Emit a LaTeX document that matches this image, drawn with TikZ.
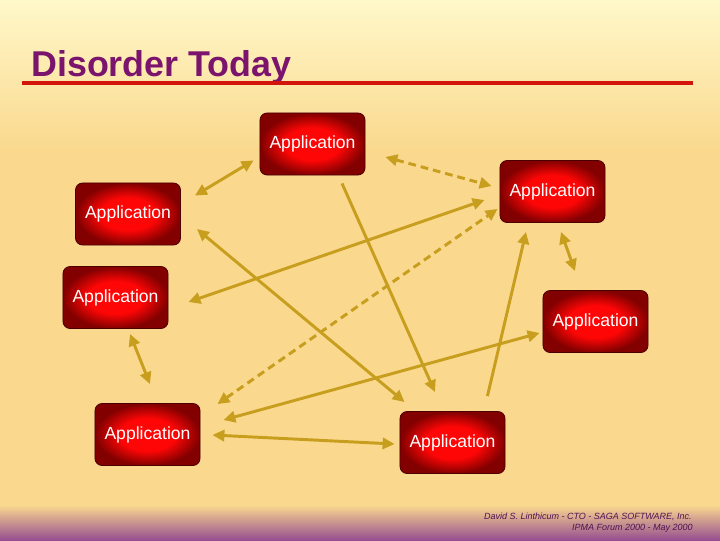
\documentclass[tikz,border=0pt]{standalone}
\usepackage{fontspec}
\setmainfont{Liberation Sans}
\usetikzlibrary{arrows.meta}

\definecolor{bgtop}{RGB}{255,248,202}
\definecolor{bgmid}{RGB}{250,217,142}
\definecolor{bgfoot}{RGB}{150,78,145}
\definecolor{titlecol}{RGB}{122,20,108}
\definecolor{rulecol}{RGB}{210,20,10}
\definecolor{linkcol}{RGB}{200,158,30}
\definecolor{appred}{RGB}{255,6,6}
\definecolor{appdark}{RGB}{130,0,0}
\definecolor{footcol}{RGB}{80,18,80}

\pgfdeclareradialshading{appglow}{\pgfpoint{0bp}{0bp}}{%
  color(0bp)=(appred); color(13bp)=(appred); color(25bp)=(appdark); color(50bp)=(appdark)}

\tikzset{
  app/.style={rectangle, rounded corners=0.18cm, draw=appdark!60!black,
    line width=0.6pt, shading=appglow,
    minimum width=2.625cm, minimum height=1.55cm, inner sep=0pt,
    text=white, font=\fontsize{12.5}{14}\selectfont},
  link/.style={draw=linkcol, line width=2.1pt},
  dlink/.style={link, dash pattern=on 5.5pt off 3.5pt},
  twoway/.style={{Triangle[length=8.5pt,width=8pt]}-{Triangle[length=8.5pt,width=8pt]}},
  oneway/.style={-{Triangle[length=8.5pt,width=8pt]}},
}

\begin{document}
\begin{tikzpicture}[x=0.025cm,y=-0.025cm]
% ===== background =====
\useasboundingbox (0,0) rectangle (720,540);
\shade[top color=bgtop, bottom color=bgmid] (0,0) rectangle (720,150);
\fill[bgmid] (0,149) rectangle (720,506);
\shade[top color=bgmid, bottom color=bgfoot] (0,505) rectangle (720,540);

% ===== title =====
\node[anchor=base west, inner sep=0pt, text=titlecol,
  font=\fontsize{25.5}{29}\selectfont\bfseries] (title) at (31,76) {Disorder Today};
\draw[rulecol, line width=2.2pt] (22,83) -- (693,83);

% ===== applications =====
\node[app] (appT)  at (312.5,144)   {Application};
\node[app] (appRT) at (552.5,191.5) {Application};
\node[app] (appLT) at (128,214)     {Application};
\node[app] (appLM) at (115.5,297.5) {Application};
\node[app] (appRM) at (595.5,321.5) {Application};
\node[app] (appLB) at (147.5,434.5) {Application};
\node[app] (appMB) at (452.5,442.5) {Application};

% ===== links =====
\draw[link,twoway] ([shift={(14,13)}]appLT.north east) -- ([shift={(-6,-15)}]appT.south west);
\draw[dlink,twoway] ([shift={(20,13)}]appT.east) -- ([shift={(-8,-5.5)}]appRT.west);
\draw[link,twoway] ([shift={(20,4.5)}]appLM.east) -- ([shift={(-15,8.5)}]appRT.west);
\draw[dlink,twoway] ([shift={(17,1)}]appLB.north east) -- ([shift={(-2,-14)}]appRT.south west);
\draw[link,oneway] ([shift={(29.5,8)}]appT.south) -- ([shift={(-17.5,-19)}]appMB.north);
\draw[link,twoway] ([shift={(16,15)}]appLT.east) -- ([shift={(5,-9)}]appMB.north west);
\draw[link,oneway] ([shift={(-18,-15)}]appMB.north east) -- ([shift={(-26.5,9)}]appRT.south);
\draw[link,twoway] ([shift={(8.5,9)}]appRT.south) -- ([shift={(-20.5,-19)}]appRM.north);
\draw[link,twoway] ([shift={(23,-14.5)}]appLB.east) -- ([shift={(-3,11.5)}]appRM.west);
\draw[link,twoway] ([shift={(14.5,5)}]appLM.south) -- ([shift={(2.5,-19)}]appLB.north);
\draw[link,twoway] ([shift={(12,0.5)}]appLB.east) -- ([shift={(-5,1.5)}]appMB.west);

% ===== footer =====
\node[anchor=base east, inner sep=0pt, text=footcol,
  font=\fontsize{6.4}{7}\selectfont\itshape] (credit) at (692,519)
  {David S. Linthicum - CTO - SAGA SOFTWARE, Inc.};
\node[anchor=base east, inner sep=0pt, text=footcol,
  font=\fontsize{6.4}{7}\selectfont\itshape] (forum) at (693,530)
  {IPMA Forum 2000 - May 2000};
\end{tikzpicture}
\end{document}
